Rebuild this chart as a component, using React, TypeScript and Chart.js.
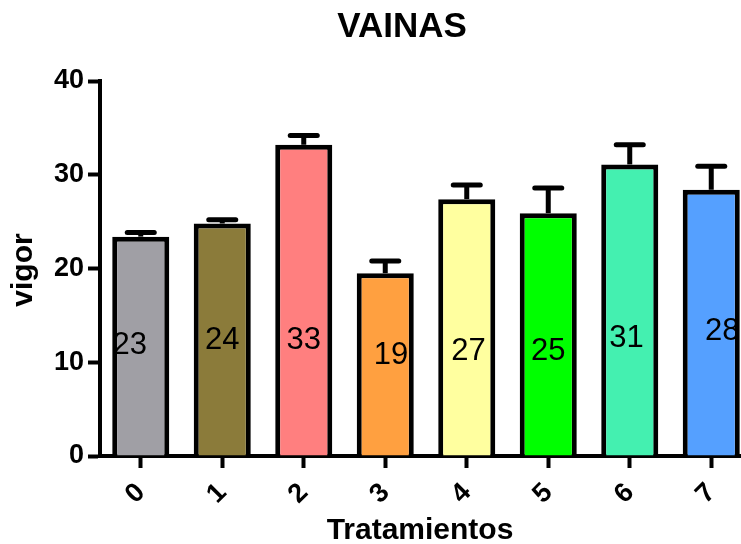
import React, { useEffect, useRef } from "react";
import { Chart, registerables } from "chart.js";

Chart.register(...registerables);

// ---- data ----
const categories = ["0", "1", "2", "3", "4", "5", "6", "7"];
const means = [23.4, 24.8, 33.2, 19.5, 27.4, 25.9, 31.1, 28.4];
const errors = [0.45, 0.4, 1.0, 1.3, 1.5, 2.7, 2.1, 2.5];
const valueLabels = ["23", "24", "33", "19", "27", "25", "31", "28"];
const labelAt = [11.75, 12.3, 12.3, 10.75, 11.15, 11.15, 12.5, 13.3];
const labelShift = [-0.135, 0, 0, 0.07, 0.02, 0, -0.04, 0.135];
const barColors = ["#a09fa5", "#8b7b3a", "#ff7f7f", "#ffa040", "#ffff9f", "#00ff00", "#44f0b0", "#55a0ff"];
const yTicks = [0, 10, 20, 30, 40];

const titleText = "VAINAS";
const xTitle = "Tratamientos";
const yTitle = "vigor";

const FONT = "'Liberation Sans', Arial, Helvetica, sans-serif";

const overlay = {
  id: "overlay",
  afterDatasetsDraw(chart: any) {
    const ctx = chart.ctx;
    const xs = chart.scales.x;
    const ys = chart.scales.y;
    ctx.save();
    ctx.strokeStyle = "#000";
    ctx.lineWidth = 5;
    means.forEach((m, i) => {
      const cx = xs.getPixelForValue(i);
      const p0 = ys.getPixelForValue(m);
      const p1 = ys.getPixelForValue(m + errors[i]);
      ctx.lineCap = "butt";
      ctx.beginPath();
      ctx.moveTo(cx, p0);
      ctx.lineTo(cx, p1);
      ctx.stroke();
      ctx.lineCap = "round";
      ctx.beginPath();
      ctx.moveTo(cx - 13.5, p1);
      ctx.lineTo(cx + 13.5, p1);
      ctx.stroke();
    });
    const cw = xs.getPixelForValue(1) - xs.getPixelForValue(0);
    ctx.fillStyle = "#000";
    ctx.font = `31px ${FONT}`;
    ctx.textAlign = "center";
    ctx.textBaseline = "middle";
    valueLabels.forEach((t, i) => {
      ctx.fillText(t, xs.getPixelForValue(i) + labelShift[i] * cw, ys.getPixelForValue(labelAt[i]));
    });
    ctx.restore();
  },
  afterDraw(chart: any) {
    const ctx = chart.ctx;
    ctx.save();
    ctx.fillStyle = "#000";
    ctx.textAlign = "center";
    ctx.textBaseline = "alphabetic";
    ctx.font = `bold 35px ${FONT}`;
    ctx.fillText(titleText, 402, 37);
    ctx.font = `bold 30px ${FONT}`;
    ctx.fillText(xTitle, 420, 539);
    ctx.translate(31.5, 270);
    ctx.rotate(-Math.PI / 2);
    ctx.fillText(yTitle, 0, 0);
    ctx.restore();
  },
};

export default function App() {
  const ref = useRef<HTMLCanvasElement>(null);
  useEffect(() => {
    if (!ref.current) return;
    const tickFont = { family: FONT, size: 27, weight: "bold" as const };
    const chart = new Chart(ref.current, {
      type: "bar",
      data: {
        labels: categories,
        datasets: [
          {
            data: means,
            backgroundColor: barColors,
            borderColor: "#000",
            borderWidth: 5,
            borderSkipped: "start",
            barPercentage: 0.7,
            categoryPercentage: 1,
          },
        ],
      },
      options: {
        responsive: false,
        animation: false,
        devicePixelRatio: 1,
        layout: { padding: { top: 81, right: 0, bottom: 0, left: 0 } },
        plugins: {
          legend: { display: false },
          tooltip: { enabled: false },
          title: { display: false },
        },
        scales: {
          x: {
            offset: true,
            grid: {
              display: true,
              offset: false,
              drawOnChartArea: false,
              drawTicks: true,
              tickLength: 12,
              tickWidth: 4,
              tickColor: "#000",
            },
            border: { display: true, color: "#000", width: 4 },
            ticks: {
              color: "#000",
              font: tickFont,
              minRotation: 45,
              maxRotation: 45,
              autoSkip: false,
              padding: 9,
            },
            afterFit: (s: any) => {
              s.height = 88;
            },
          },
          y: {
            min: 0,
            max: 40,
            afterBuildTicks: (s: any) => {
              s.ticks = yTicks.map((v) => ({ value: v }));
            },
            grid: {
              display: true,
              drawOnChartArea: false,
              drawTicks: true,
              tickLength: 12,
              tickWidth: 4,
              tickColor: "#000",
            },
            border: { display: true, color: "#000", width: 4 },
            ticks: { color: "#000", font: tickFont, padding: 4 },
            afterFit: (s: any) => {
              s.width = 100;
            },
          },
        },
      },
      plugins: [overlay],
    });
    return () => chart.destroy();
  }, []);
  return (
    <div
      style={{
        position: "absolute",
        left: 0,
        top: 0,
        width: 741,
        height: 544,
        overflow: "hidden",
        background: "#fff",
      }}
    >
      <canvas ref={ref} width={752} height={544} style={{ display: "block", width: 752, height: 544 }} />
    </div>
  );
}
